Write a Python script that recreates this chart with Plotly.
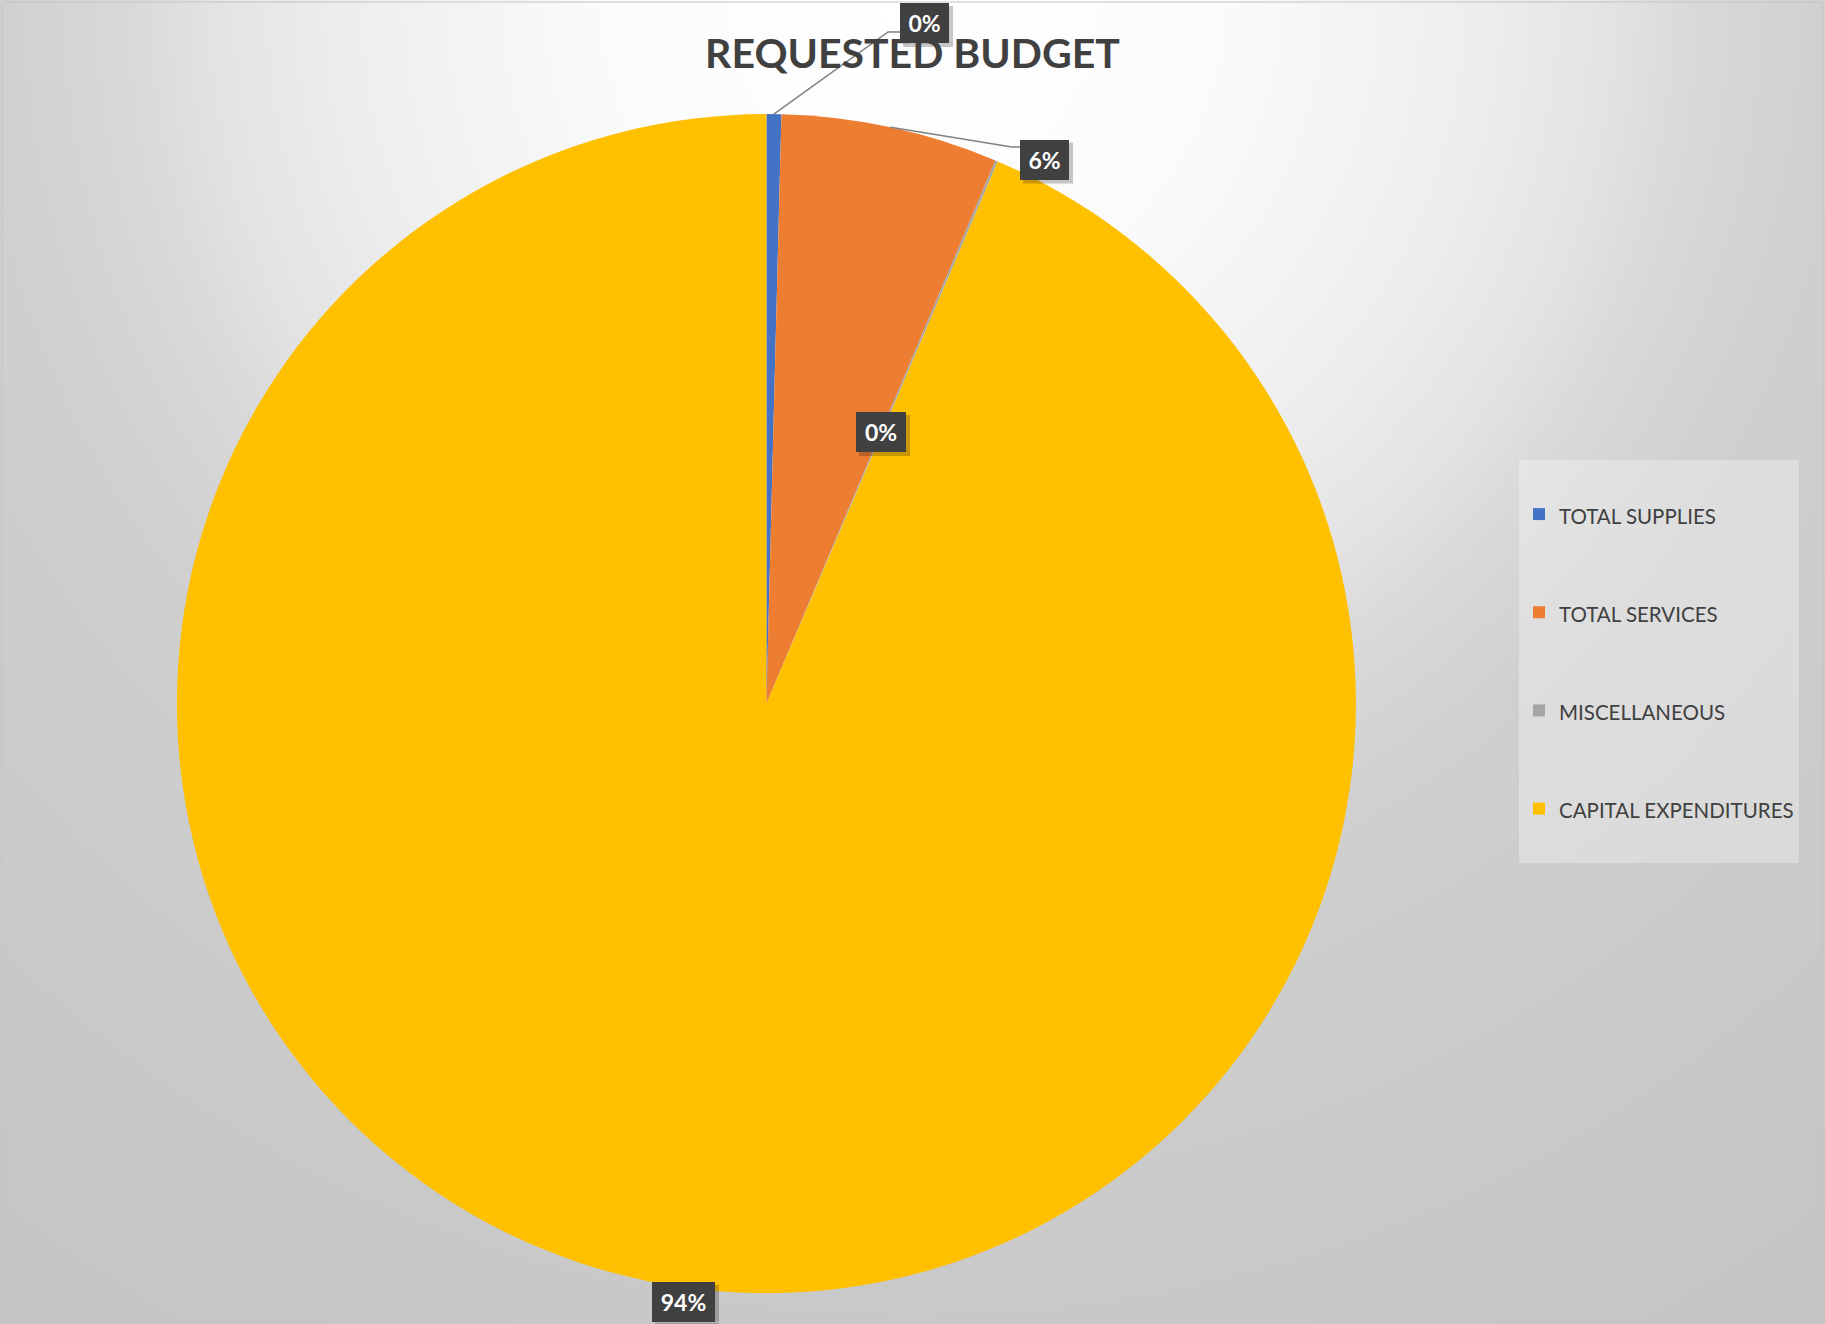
import numpy as np
import plotly.graph_objects as go

# ---------------- data ----------------
categories = ["TOTAL SUPPLIES", "TOTAL SERVICES", "MISCELLANEOUS", "CAPITAL EXPENDITURES"]
values = [4060, 59440, 700, 935800]
colors = ["#4472C4", "#ED7D31", "#A5A5A5", "#FFC000"]
title_text = "REQUESTED BUDGET"

# ---------------- layout constants (pixels) ----------------
W, H = 1825, 1324
CX, CY, R = 766.4, 703.6, 589.5
# data-label boxes: centre x, centre y, width
label_boxes = [(924.5, 23, 49), (1044.5, 159.5, 49), (881, 432, 50), (683.5, 1302, 63)]
# leader line elbows (None = no leader)
leader_elbows = [((888, 32), (900, 32)), ((1012, 147), (1020, 147)), None, None]

total = float(sum(values))
pct_text = [f"{round(v / total * 100)}%" for v in values]

# ---------------- background gradient ----------------
gx = np.linspace(0, W, 70)
gy = np.linspace(0, H, 52)
GX, GY = np.meshgrid(gx, gy)
dist = np.sqrt((GX - 912) ** 2 + (GY - 0) ** 2)
grey = np.interp(dist, [0, 300, 560, 700, 780, 912, 1150, 1610],
                 [255, 251, 238, 227, 217, 208, 203, 196])

fig = go.Figure()
fig.add_trace(go.Heatmap(
    x=gx, y=gy, z=grey, zmin=196, zmax=255, zsmooth="best",
    colorscale=[[0, "rgb(196,196,196)"], [1, "rgb(255,255,255)"]],
    showscale=False, hoverinfo="skip",
))

# ---------------- pie ----------------
legend_labels = [f" <br><span style='font-size:20.5px'>{c}</span><br> " for c in categories]
fig.add_trace(go.Pie(
    labels=legend_labels,
    values=values,
    marker=dict(colors=colors, line=dict(width=0)),
    sort=False,
    direction="clockwise",
    rotation=0,
    textinfo="none",
    hovertext=categories,
    hoverinfo="text+percent",
    domain=dict(x=[(CX - R) / W, (CX + R) / W], y=[1 - (CY + R) / H, 1 - (CY - R) / H]),
    showlegend=True,
))

# ---------------- data labels and leaders ----------------
shapes = []
annotations = []
cum = 0.0
for i, v in enumerate(values):
    mid = (cum + v / 2) / total * 2 * np.pi
    cum += v
    bx, by, bw = label_boxes[i]
    if leader_elbows[i] is not None:
        sx = CX + R * np.sin(mid)
        sy = CY - R * np.cos(mid)
        (ex, ey), (tx, ty) = leader_elbows[i]
        shapes.append(dict(type="path", xref="x", yref="y", layer="above",
                           path=f"M{sx:.1f},{sy:.1f} L{ex},{ey} L{tx},{ty}",
                           line=dict(color="#808080", width=1.5)))
    # shadow
    shapes.append(dict(type="rect", xref="x", yref="y", layer="above",
                       x0=bx - bw / 2 + 3, x1=bx + bw / 2 + 4, y0=by - 20 + 3, y1=by + 20 + 4,
                       fillcolor="rgba(0,0,0,0.22)", line=dict(width=0)))
    annotations.append(dict(
        x=bx, y=by, xref="x", yref="y", text=f"<b>{pct_text[i]}</b>", showarrow=False,
        bgcolor="#404040", width=bw, height=40, borderpad=0, borderwidth=0,
        align="center", valign="middle",
        font=dict(family="Lato", size=23, color="#FFFFFF"),
    ))

# chart border
shapes.append(dict(type="rect", xref="x", yref="y", layer="above",
                   x0=2, x1=W - 2, y0=2, y1=H - 2, line=dict(color="#c4c4c4", width=1)))

fig.update_layout(
    width=W, height=H,
    margin=dict(l=0, r=0, t=0, b=0),
    paper_bgcolor="#d0d0d0",
    plot_bgcolor="rgba(0,0,0,0)",
    xaxis=dict(range=[0, W], visible=False, domain=[0, 1], fixedrange=True),
    yaxis=dict(range=[H, 0], visible=False, domain=[0, 1], fixedrange=True),
    title=dict(text=f"<b>{title_text}</b>", x=0.5, xanchor="center",
               y=1 - 53.5 / H, yanchor="middle",
               font=dict(family="Lato", size=41, color="#404040")),
    legend=dict(x=1519 / W, y=1 - 460 / H, xanchor="left", yanchor="top",
                bgcolor="rgba(255,255,255,0.3)", borderwidth=0,
                font=dict(family="Lato", size=24.4, color="#404040"),
                valign="middle", traceorder="normal"),
    shapes=shapes,
    annotations=annotations,
)

fig.write_html("out.html", config={"displayModeBar": False},
               post_script="document.body.style.margin='0';document.body.style.overflow='hidden';")
